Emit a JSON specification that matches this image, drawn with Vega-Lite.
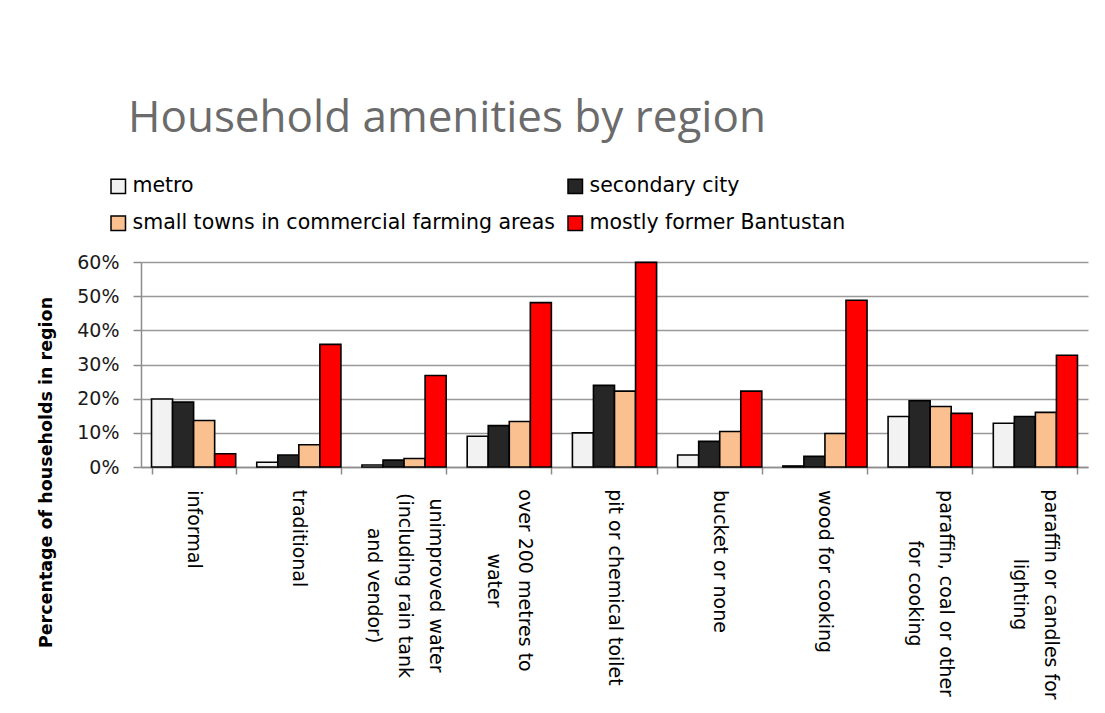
{
  "$schema": "https://vega.github.io/schema/vega-lite/v6.json",
  "width": 947,
  "height": 205,
  "autosize": "none",
  "padding": {"left": 141, "top": 262, "right": 17, "bottom": 246},
  "background": "white",
  "title": {
    "text": "Household amenities by region",
    "anchor": "start",
    "frame": "group",
    "dx": -13,
    "offset": 35,
    "font": "Open Sans",
    "fontSize": 44,
    "fontWeight": "normal",
    "color": "#6b6b6b"
  },
  "data": {
    "values": [
      {"cat": "informal", "region": "metro", "v": 0.199},
      {"cat": "informal", "region": "secondary city", "v": 0.19},
      {"cat": "informal", "region": "small towns in commercial farming areas", "v": 0.136},
      {"cat": "informal", "region": "mostly former Bantustan", "v": 0.039},
      {"cat": "traditional", "region": "metro", "v": 0.014},
      {"cat": "traditional", "region": "secondary city", "v": 0.035},
      {"cat": "traditional", "region": "small towns in commercial farming areas", "v": 0.065},
      {"cat": "traditional", "region": "mostly former Bantustan", "v": 0.359},
      {"cat": "unimproved water (including rain tank and vendor)", "region": "metro", "v": 0.006},
      {"cat": "unimproved water (including rain tank and vendor)", "region": "secondary city", "v": 0.02},
      {"cat": "unimproved water (including rain tank and vendor)", "region": "small towns in commercial farming areas", "v": 0.025},
      {"cat": "unimproved water (including rain tank and vendor)", "region": "mostly former Bantustan", "v": 0.268},
      {"cat": "over 200 metres to water", "region": "metro", "v": 0.09},
      {"cat": "over 200 metres to water", "region": "secondary city", "v": 0.121},
      {"cat": "over 200 metres to water", "region": "small towns in commercial farming areas", "v": 0.133},
      {"cat": "over 200 metres to water", "region": "mostly former Bantustan", "v": 0.481},
      {"cat": "pit or chemical toilet", "region": "metro", "v": 0.1},
      {"cat": "pit or chemical toilet", "region": "secondary city", "v": 0.239},
      {"cat": "pit or chemical toilet", "region": "small towns in commercial farming areas", "v": 0.222},
      {"cat": "pit or chemical toilet", "region": "mostly former Bantustan", "v": 0.599},
      {"cat": "bucket or none", "region": "metro", "v": 0.035},
      {"cat": "bucket or none", "region": "secondary city", "v": 0.075},
      {"cat": "bucket or none", "region": "small towns in commercial farming areas", "v": 0.104},
      {"cat": "bucket or none", "region": "mostly former Bantustan", "v": 0.222},
      {"cat": "wood for cooking", "region": "metro", "v": 0.003},
      {"cat": "wood for cooking", "region": "secondary city", "v": 0.031},
      {"cat": "wood for cooking", "region": "small towns in commercial farming areas", "v": 0.098},
      {"cat": "wood for cooking", "region": "mostly former Bantustan", "v": 0.488},
      {"cat": "paraffin, coal or other for cooking", "region": "metro", "v": 0.148},
      {"cat": "paraffin, coal or other for cooking", "region": "secondary city", "v": 0.194},
      {"cat": "paraffin, coal or other for cooking", "region": "small towns in commercial farming areas", "v": 0.177},
      {"cat": "paraffin, coal or other for cooking", "region": "mostly former Bantustan", "v": 0.157},
      {"cat": "paraffin or candles for lighting", "region": "metro", "v": 0.128},
      {"cat": "paraffin or candles for lighting", "region": "secondary city", "v": 0.148},
      {"cat": "paraffin or candles for lighting", "region": "small towns in commercial farming areas", "v": 0.16},
      {"cat": "paraffin or candles for lighting", "region": "mostly former Bantustan", "v": 0.327}
    ]
  },
  "mark": {"type": "bar", "stroke": "black", "strokeWidth": 1.6},
  "encoding": {
    "x": {
      "field": "cat",
      "type": "nominal",
      "sort": null,
      "scale": {"paddingInner": 0.2, "paddingOuter": 0.1},
      "axis": {
        "title": null,
        "labelAngle": 90,
        "labelAlign": "center",
        "labelBaseline": "middle",
        "labelFont": "DejaVu Sans",
        "labelFontSize": 19,
        "labelColor": "black",
        "labelLineHeight": 31,
        "labelLimit": 400,
        "labelPadding": {
          "condition": [
            {"test": "datum.value == 'informal'", "value": 55},
            {"test": "datum.value == 'traditional'", "value": 64},
            {"test": "datum.value == 'unimproved water (including rain tank and vendor)'", "value": 111},
            {"test": "datum.value == 'over 200 metres to water'", "value": 106},
            {"test": "datum.value == 'pit or chemical toilet'", "value": 113},
            {"test": "datum.value == 'bucket or none'", "value": 87},
            {"test": "datum.value == 'wood for cooking'", "value": 97},
            {"test": "datum.value == 'paraffin, coal or other for cooking'", "value": 119},
            {"test": "datum.value == 'paraffin or candles for lighting'", "value": 120}
          ],
          "value": 100
        },
        "labelOffset": {
          "condition": [
            {"test": "datum.value == 'unimproved water (including rain tank and vendor)'", "value": 31},
            {"test": "datum.value == 'over 200 metres to water' || datum.value == 'paraffin, coal or other for cooking' || datum.value == 'paraffin or candles for lighting'", "value": 15.5}
          ],
          "value": 0
        },
        "domainColor": "#8c8c8c",
        "domainWidth": 1.5,
        "tickColor": "#8c8c8c",
        "tickWidth": 1.5,
        "tickSize": 7,
        "tickBand": "extent",
        "labelExpr": "datum.value == 'unimproved water (including rain tank and vendor)' ? ['unimproved water', '(including rain tank', 'and vendor)'] : datum.value == 'over 200 metres to water' ? ['over 200 metres to', 'water'] : datum.value == 'paraffin, coal or other for cooking' ? ['paraffin, coal or other', 'for cooking'] : datum.value == 'paraffin or candles for lighting' ? ['paraffin or candles for', 'lighting'] : datum.value"
      }
    },
    "xOffset": {
      "field": "region",
      "type": "nominal",
      "sort": ["metro", "secondary city", "small towns in commercial farming areas", "mostly former Bantustan"],
      "scale": {"paddingInner": 0, "paddingOuter": 0}
    },
    "y": {
      "field": "v",
      "type": "quantitative",
      "scale": {"domain": [0, 0.6], "nice": false},
      "axis": {
        "title": "Percentage of households in region",
        "titleFont": "DejaVu Sans",
        "titleFontSize": 17.5,
        "titleFontWeight": "bold",
        "titleColor": "black",
        "titleY": 210,
        "titleX": -95,
        "titleAlign": "center",
        "titleBaseline": "middle",
        "format": ".0%",
        "values": [0, 0.1, 0.2, 0.3, 0.4, 0.5, 0.6],
        "labelFont": "DejaVu Sans",
        "labelFontSize": 19,
        "labelColor": "#1a1a1a",
        "labelPadding": 14,
        "domainColor": "#8c8c8c",
        "domainWidth": 1.5,
        "tickColor": "#8c8c8c",
        "tickWidth": 1.5,
        "tickSize": 8,
        "gridColor": "#999999",
        "gridWidth": 1.5
      }
    },
    "color": {
      "field": "region",
      "type": "nominal",
      "scale": {
        "domain": ["metro", "secondary city", "small towns in commercial farming areas", "mostly former Bantustan"],
        "range": ["#f2f2f2", "#262626", "#fac090", "#ff0000"]
      },
      "legend": {
        "title": null,
        "orient": "none",
        "direction": "horizontal",
        "legendX": -33,
        "legendY": -86,
        "columns": 2,
        "columnPadding": 10,
        "rowPadding": 16,
        "symbolType": "square",
        "symbolSize": 210,
        "symbolStrokeColor": "black",
        "symbolStrokeWidth": 1.5,
        "symbolOpacity": 1,
        "labelFont": "DejaVu Sans",
        "labelFontSize": 20.5,
        "labelColor": "black",
        "labelLimit": 600,
        "labelOffset": 4
      }
    }
  },
  "config": {
    "view": {"stroke": null}
  }
}
